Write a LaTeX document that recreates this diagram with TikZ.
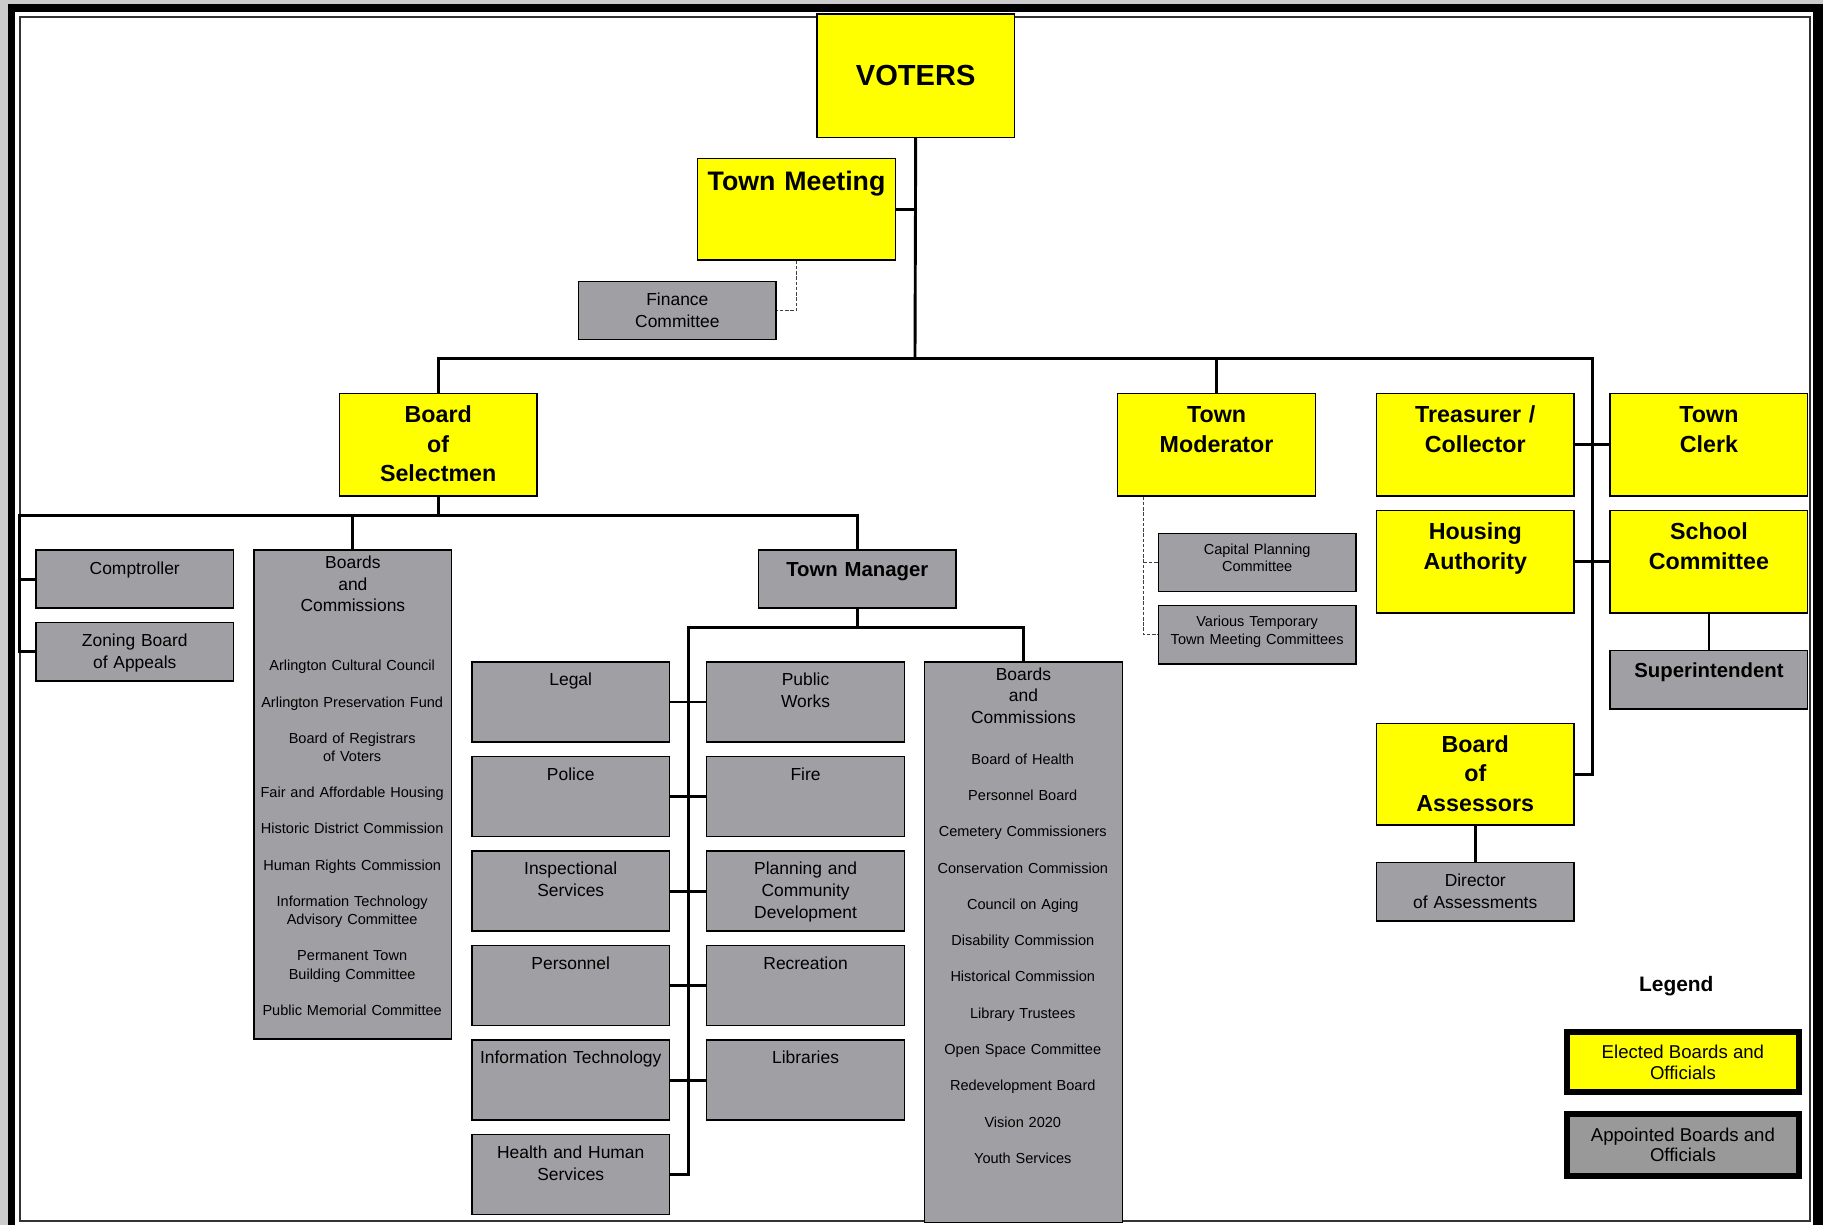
\documentclass[tikz,border=0pt]{standalone}
\usepackage{fontspec}
\setmainfont{Liberation Sans}
\usepackage{xcolor}
\definecolor{elecyellow}{RGB}{255,255,0}
\definecolor{apptgray}{RGB}{160,160,164}
\definecolor{leggray}{RGB}{153,153,153}
\definecolor{pagegray}{RGB}{204,204,204}

\begin{document}
\begin{tikzpicture}[x=1pt,y=-1pt,
  orgbox/.style={rectangle,draw=black,line width=1.2pt,inner sep=0pt,anchor=north west,text width=170pt,align=center},
  electbox/.style={orgbox,fill=elecyellow,font=\bfseries\fontsize{20}{25.5}\selectfont,text height=24.7pt,text depth=63.3pt},
  apptbox/.style={orgbox,fill=apptgray,font=\fontsize{15}{18.7}\selectfont},
  deptbox/.style={apptbox,text height=20.5pt,text depth=48.3pt},
  unitbox/.style={apptbox,text height=20.8pt,text depth=29.2pt},
  headbox/.style={unitbox,font=\bfseries\fontsize{17.5}{21}\selectfont,text height=23pt,text depth=27pt},
  minorbox/.style={unitbox,font=\fontsize{12.5}{15}\selectfont,text height=18pt,text depth=32pt},
  items/.style={anchor=base,text width=170pt,align=center,inner sep=0pt,font=\fontsize{12.5}{15.6}\selectfont},
  conn/.style={line width=2.5pt},
  dashlink/.style={line width=0.9pt,black!75,dash pattern=on 3pt off 1.5pt},
  legbox/.style={rectangle,draw=black,line width=5.2pt,minimum width=199.8pt,align=center,font=\fontsize{16}{18}\selectfont}]
\useasboundingbox (0,0) rectangle (1568,1054);

% page frame
\fill[pagegray] (0,0) rectangle (1568,1054);
\fill[black] (6.9,3.4) rectangle (1568,1054);
\fill[white] (12.9,10.3) rectangle (1559.5,1054);
\draw[black!80,line width=1.7pt] (17.2,14.6) rectangle (1557,1050.2);

% elected
\node[electbox,font=\bfseries\fontsize{25}{30}\selectfont,text height=61.6pt,text depth=44.5pt] (voters) at (702,11.5) {VOTERS};
\node[electbox,font=\bfseries\fontsize{23}{28}\selectfont,text height=28pt,text depth=59.6pt] (meeting) at (599.5,135.5) {Town Meeting};
\node[electbox] (bos) at (291.3,338) {Board\\of\\Selectmen};
\node[electbox] (mod) at (960.8,338) {Town\\Moderator};
\node[electbox] (treas) at (1183.3,338) {Treasurer /\\Collector};
\node[electbox] (clerk) at (1384.3,338) {Town\\Clerk};
\node[electbox] (housing) at (1183.3,438.7) {Housing\\Authority};
\node[electbox] (school) at (1384.3,438.7) {School\\Committee};
\node[electbox,text depth=62.7pt] (assess) at (1183.3,621.6) {Board\\of\\Assessors};

% appointed
\node[unitbox] (fin) at (497,241.4) {Finance\\Committee};
\node[unitbox] (comp) at (30.3,472.5) {Comptroller};
\node[unitbox] (zba) at (30.3,535) {Zoning Board\\of Appeals};
\node[apptbox,text height=15.8pt,text depth=404.8pt] (bocs) at (217.9,472.5) {Boards\\and\\Commissions};
\node[items] (bocsl) at (302.9,576.9) {Arlington Cultural Council\\[15.6pt]Arlington Preservation Fund\\[15.6pt]Board of Registrars\\of Voters\\[15.6pt]Fair and Affordable Housing\\[15.6pt]Historic District Commission\\[15.6pt]Human Rights Commission\\[15.6pt]Information Technology\\Advisory Committee\\[15.6pt]Permanent Town\\Building Committee\\[15.6pt]Public Memorial Committee};
\node[headbox] (tm) at (651.8,472.5) {Town Manager};
\node[minorbox] (cpc) at (995.7,458.2) {Capital Planning\\Committee};
\node[minorbox] (vtc) at (995.7,520.4) {Various Temporary\\Town Meeting Committees};
\node[headbox] (supt) at (1384.3,559.1) {Superintendent};
\node[unitbox] (dir) at (1183.3,741.4) {Director\\of Assessments};

% town manager departments
\node[deptbox] (legal) at (405.3,568.8) {Legal};
\node[deptbox] (police) at (405.3,650) {Police};
\node[deptbox] (insp) at (405.3,731.4) {Inspectional\\Services};
\node[deptbox] (pers) at (405.3,812.8) {Personnel};
\node[deptbox] (it) at (405.3,894) {Information Technology};
\node[deptbox] (hhs) at (405.3,975.4) {Health and Human\\Services};
\node[deptbox] (pw) at (607.3,568.8) {Public\\Works};
\node[deptbox] (fire) at (607.3,650) {Fire};
\node[deptbox] (pcd) at (607.3,731.4) {Planning and\\Community\\Development};
\node[deptbox] (rec) at (607.3,812.8) {Recreation};
\node[deptbox] (lib) at (607.3,894) {Libraries};
\node[apptbox,text height=15.5pt,text depth=466.5pt] (boct) at (794.7,568.8) {Boards\\and\\Commissions};
\node[items] (boctl) at (879.7,657.4) {Board of Health\\[15.6pt]Personnel Board\\[15.6pt]Cemetery Commissioners\\[15.6pt]Conservation Commission\\[15.6pt]Council on Aging\\[15.6pt]Disability Commission\\[15.6pt]Historical Commission\\[15.6pt]Library Trustees\\[15.6pt]Open Space Committee\\[15.6pt]Redevelopment Board\\[15.6pt]Vision 2020\\[15.6pt]Youth Services};

% connectors
\coordinate (mainbus) at (787,308);
\coordinate (rspine) at (1370,308);
\coordinate (lbus) at (17,443.5);
\coordinate (tmbus) at (592.3,539.6);
\coordinate (modtap) at ([xshift=23pt]mod.south west);

\draw[conn] (voters.south) -- (mainbus);
\draw[conn] (meeting.east) -- (meeting.east -| mainbus);
\draw[conn] (bos.north) |- (rspine) -- (rspine |- assess.east) -- (assess.east);
\draw[conn] (mod.north) -- (mod.north |- rspine);
\draw[conn] (treas.east) -- (clerk.west);
\draw[conn] (housing.east) -- (school.west);
\draw[conn] (school.south) -- (supt.north);
\draw[conn] (assess.south) -- (dir.north);
\draw[conn] (zba.west) -| (lbus) -| (tm.north);
\draw[conn] (comp.west) -- (comp.west -| lbus);
\draw[conn] (bos.south) -- (bos.south |- lbus);
\draw[conn] (bocs.north) -- (bocs.north |- lbus);
\draw[conn] (tm.south) -- (tm.south |- tmbus);
\draw[conn] (hhs.east) -| (tmbus) -| (boct.north);
\draw[conn] (legal.east) -- (pw.west);
\draw[conn] (police.east) -- (fire.west);
\draw[conn] (insp.east) -- (pcd.west);
\draw[conn] (pers.east) -- (rec.west);
\draw[conn] (it.east) -- (lib.west);
\draw[dashlink] (meeting.south) |- (fin.east);
\draw[dashlink] (modtap) |- (vtc.west);
\draw[dashlink] (cpc.west) -- (cpc.west -| modtap);

% legend
\node[font=\bfseries\fontsize{18}{22}\selectfont,anchor=base] (legend) at (1441.8,853) {Legend};
\node[legbox,fill=elecyellow,minimum height=51.8pt] (elected) at (1447.5,913.5) {Elected Boards and\\Officials};
\node[legbox,fill=leggray,minimum height=53.6pt] (appointed) at (1447.5,984.7) {Appointed Boards and\\Officials};
\end{tikzpicture}
\end{document}
